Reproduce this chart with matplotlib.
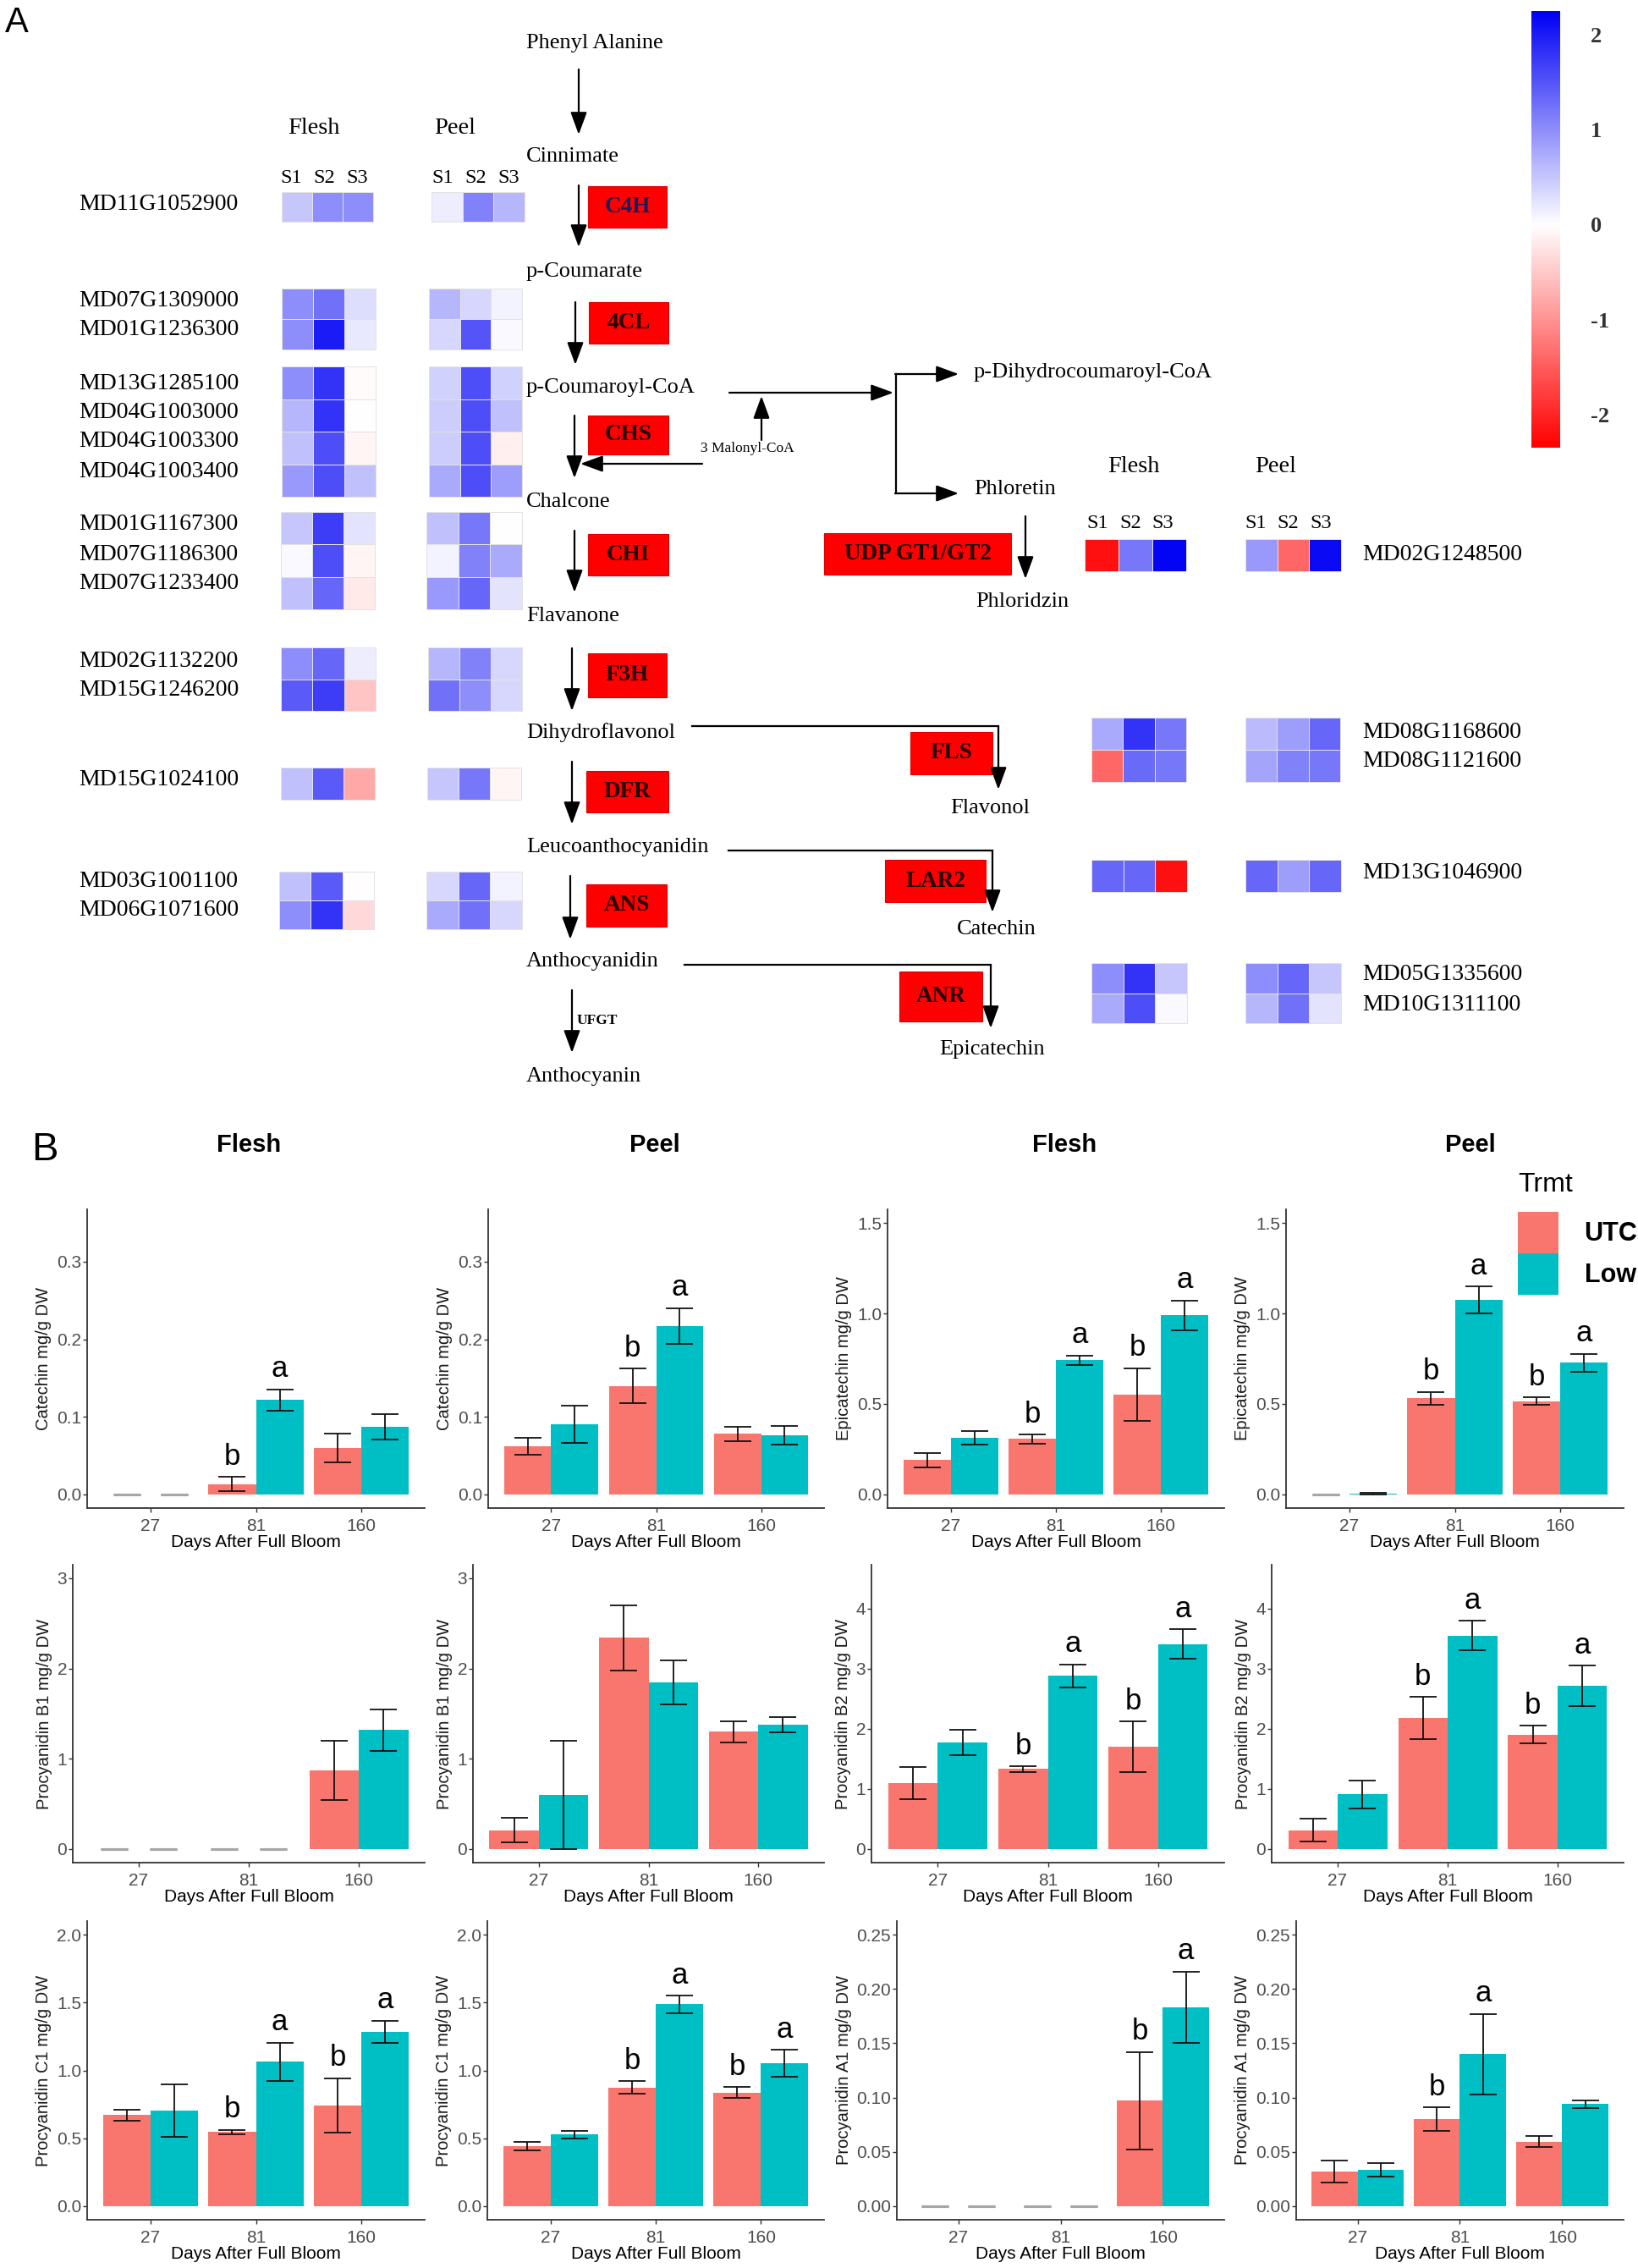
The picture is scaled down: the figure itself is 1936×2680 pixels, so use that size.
import numpy as np
import matplotlib
matplotlib.use("Agg")
import matplotlib.pyplot as plt
from matplotlib import font_manager
from matplotlib.colors import LinearSegmentedColormap, Normalize
from matplotlib.cm import ScalarMappable
from matplotlib.patches import Rectangle
from matplotlib.ticker import MultipleLocator, FormatStrFormatter

# ------------------------------------------------------------------ data
# Panel A heat-map values (z-scores, columns S1, S2, S3)
C4H_GENES = ["MD11G1052900"]
C4H_FLESH = [[0.50, 1.00, 1.00]]
C4H_PEEL = [[0.15, 1.10, 0.65]]

CL4_GENES = ["MD07G1309000", "MD01G1236300"]
CL4_FLESH = [[1.00, 1.25, 0.30], [1.00, 2.00, 0.20]]
CL4_PEEL = [[0.65, 0.35, 0.10], [0.35, 1.50, 0.05]]

CHS_GENES = ["MD13G1285100", "MD04G1003000", "MD04G1003300", "MD04G1003400"]
CHS_FLESH = [[1.00, 1.80, -0.05], [0.65, 1.80, 0.00], [0.55, 1.55, -0.10], [0.90, 1.55, 0.55]]
CHS_PEEL = [[0.40, 1.55, 0.40], [0.45, 1.55, 0.55], [0.45, 1.55, -0.15], [0.75, 1.55, 0.85]]

CHI_GENES = ["MD01G1167300", "MD07G1186300", "MD07G1233400"]
CHI_FLESH = [[0.50, 1.70, 0.25], [0.05, 1.55, -0.10], [0.55, 1.35, -0.20]]
CHI_PEEL = [[0.55, 1.20, 0.00], [0.10, 1.10, 0.75], [0.90, 1.35, 0.25]]

F3H_GENES = ["MD02G1132200", "MD15G1246200"]
F3H_FLESH = [[1.00, 1.35, 0.15], [1.45, 1.70, -0.55]]
F3H_PEEL = [[0.65, 1.10, 0.35], [1.25, 1.00, 0.35]]

DFR_GENES = ["MD15G1024100"]
DFR_FLESH = [[0.55, 1.45, -0.80]]
DFR_PEEL = [[0.50, 1.20, -0.10]]

ANS_GENES = ["MD03G1001100", "MD06G1071600"]
ANS_FLESH = [[0.55, 1.45, -0.03], [1.00, 1.80, -0.35]]
ANS_PEEL = [[0.35, 1.35, 0.10], [0.75, 1.25, 0.35]]

UGT_GENES = ["MD02G1248500"]
UGT_FLESH = [[-2.20, 1.20, 2.20]]
UGT_PEEL = [[0.90, -1.40, 2.15]]

FLS_GENES = ["MD08G1168600", "MD08G1121600"]
FLS_FLESH = [[0.75, 1.80, 1.20], [-1.40, 1.30, 1.20]]
FLS_PEEL = [[0.60, 0.85, 1.35], [0.80, 1.10, 1.20]]

LAR_GENES = ["MD13G1046900"]
LAR_FLESH = [[1.35, 1.35, -2.20]]
LAR_PEEL = [[1.35, 0.85, 1.35]]

ANR_GENES = ["MD05G1335600", "MD10G1311100"]
ANR_FLESH = [[1.00, 1.80, 0.50], [0.75, 1.55, 0.05]]
ANR_PEEL = [[1.00, 1.35, 0.50], [0.65, 1.25, 0.25]]

STAGES = ["S1", "S2", "S3"]
CBAR_TICKS = [-2, -1, 0, 1, 2]

# Panel B bar data: rows = [UTC, Low], columns = 27, 81, 160 DAFB
DAYS = ["27", "81", "160"]
TRMT = ["UTC", "Low"]

CAT_FLESH = [[0.0, 0.0134, 0.060], [0.0, 0.1217, 0.0877]]
CAT_FLESH_SE = [[0.0, 0.0094, 0.0184], [0.0, 0.0139, 0.0164]]
CAT_FLESH_LET = [["", "b", ""], ["", "a", ""]]

CAT_PEEL = [[0.062, 0.140, 0.078], [0.0905, 0.217, 0.0766]]
CAT_PEEL_SE = [[0.011, 0.022, 0.0095], [0.0245, 0.023, 0.012]]
CAT_PEEL_LET = [["", "b", ""], ["", "a", ""]]

EPI_FLESH = [[0.190, 0.306, 0.553], [0.314, 0.741, 0.989]]
EPI_FLESH_SE = [[0.040, 0.025, 0.145], [0.037, 0.027, 0.083]]
EPI_FLESH_LET = [["", "b", "b"], ["", "a", "a"]]

EPI_PEEL = [[0.0, 0.531, 0.516], [0.005, 1.073, 0.728]]
EPI_PEEL_SE = [[0.0, 0.035, 0.020], [0.003, 0.075, 0.050]]
EPI_PEEL_LET = [["", "b", "b"], ["", "a", "a"]]

B1_FLESH = [[0.0, 0.0, 0.87], [0.0, 0.0, 1.32]]
B1_FLESH_SE = [[0.0, 0.0, 0.33], [0.0, 0.0, 0.23]]
B1_FLESH_LET = [["", "", ""], ["", "", ""]]

B1_PEEL = [[0.21, 2.34, 1.30], [0.60, 1.85, 1.377]]
B1_PEEL_SE = [[0.134, 0.36, 0.12], [0.60, 0.245, 0.082]]
B1_PEEL_LET = [["", "", ""], ["", "", ""]]

B2_FLESH = [[1.10, 1.33, 1.70], [1.77, 2.88, 3.41]]
B2_FLESH_SE = [[0.27, 0.047, 0.424], [0.213, 0.19, 0.241]]
B2_FLESH_LET = [["", "b", "b"], ["", "a", "a"]]

B2_PEEL = [[0.31, 2.18, 1.90], [0.91, 3.55, 2.71]]
B2_PEEL_SE = [[0.19, 0.35, 0.149], [0.236, 0.245, 0.336]]
B2_PEEL_LET = [["", "b", "b"], ["", "a", "a"]]

C1_FLESH = [[0.67, 0.547, 0.741], [0.704, 1.064, 1.286]]
C1_FLESH_SE = [[0.04, 0.016, 0.20], [0.195, 0.141, 0.081]]
C1_FLESH_LET = [["", "b", "b"], ["", "a", "a"]]

C1_PEEL = [[0.441, 0.874, 0.837], [0.528, 1.487, 1.053]]
C1_PEEL_SE = [[0.033, 0.045, 0.039], [0.029, 0.064, 0.098]]
C1_PEEL_LET = [["", "b", "b"], ["", "a", "a"]]

A1_FLESH = [[0.0, 0.0, 0.097], [0.0, 0.0, 0.183]]
A1_FLESH_SE = [[0.0, 0.0, 0.045], [0.0, 0.0, 0.033]]
A1_FLESH_LET = [["", "", "b"], ["", "", "a"]]

A1_PEEL = [[0.032, 0.080, 0.0595], [0.0336, 0.140, 0.094]]
A1_PEEL_SE = [[0.010, 0.011, 0.005], [0.006, 0.037, 0.0035]]
A1_PEEL_LET = [["", "b", ""], ["", "a", ""]]

# ------------------------------------------------------------------ fonts
names = {f.name for f in font_manager.fontManager.ttflist}
SANS = "Liberation Sans" if "Liberation Sans" in names else "DejaVu Sans"
SERIF = "Liberation Serif" if "Liberation Serif" in names else "DejaVu Serif"
plt.rcParams["font.family"] = [SANS, "DejaVu Sans"]

W, H = 1936, 2680
fig = plt.figure(figsize=(W / 100, H / 100), dpi=100)
fig.patch.set_facecolor("white")


def px_axes(l, t, r, b, **kw):
    return fig.add_axes([l / W, 1 - b / H, (r - l) / W, (b - t) / H], **kw)


# ------------------------------------------------------------------ panel A
axd = px_axes(0, 0, W, H)
axd.set_xlim(0, W)
axd.set_ylim(H, 0)
axd.axis("off")

VMIN, VMAX = -2.35, 2.25
NORM = Normalize(vmin=VMIN, vmax=VMAX)
z0 = (0 - VMIN) / (VMAX - VMIN)
CMAP = LinearSegmentedColormap.from_list(
    "rwb", [(0.0, "#ff0000"), (z0, "#ffffff"), (1.0, "#0000f5")])


def heat(data, x0, x1, y0, y1):
    arr = np.asarray(data, dtype=float)
    nr, nc = arr.shape
    xs = np.linspace(x0, x1, nc + 1)
    ys = np.linspace(y0, y1, nr + 1)
    axd.pcolormesh(xs, ys, arr, cmap=CMAP, norm=NORM,
                   edgecolors="#e2e2e2", linewidth=0.6)


def serif(x, y, s, size=18.5, ha="left", va="center", **kw):
    axd.text(x, y, s, fontsize=size, family=SERIF, ha=ha, va=va, **kw)


# left-hand blocks: (genes, flesh, peel, y0, y1, label ys, flesh x, peel x)
LEFT_BLOCKS = [
    (C4H_GENES, C4H_FLESH, C4H_PEEL, 227, 262, [241], (333, 441), (510, 620)),
    (CL4_GENES, CL4_FLESH, CL4_PEEL, 341, 413, [356, 390], (333, 444), (507, 617)),
    (CHS_GENES, CHS_FLESH, CHS_PEEL, 433, 587, [454, 488, 522, 557], (333, 444), (507, 617)),
    (CHI_GENES, CHI_FLESH, CHI_PEEL, 605, 720, [620, 655, 689], (332, 443), (504, 617)),
    (F3H_GENES, F3H_FLESH, F3H_PEEL, 765, 840, [782, 816], (332, 444), (506, 617)),
    (DFR_GENES, DFR_FLESH, DFR_PEEL, 907, 945, [921], (332, 443), (505, 616)),
    (ANS_GENES, ANS_FLESH, ANS_PEEL, 1030, 1098, [1042, 1076], (330, 442), (504, 617)),
]
for genes, fl, pe, y0, y1, ly, fx, pxr in LEFT_BLOCKS:
    heat(fl, fx[0], fx[1], y0, y1)
    heat(pe, pxr[0], pxr[1], y0, y1)
    for g, yy in zip(genes, ly):
        serif(93, yy, g, size=20)

RIGHT_BLOCKS = [
    (UGT_GENES, UGT_FLESH, UGT_PEEL, 637, 675, [656], (1282, 1402), (1472, 1585)),
    (FLS_GENES, FLS_FLESH, FLS_PEEL, 848, 924, [865, 899], (1290, 1402), (1472, 1584)),
    (LAR_GENES, LAR_FLESH, LAR_PEEL, 1016, 1054, [1031], (1290, 1403), (1472, 1585)),
    (ANR_GENES, ANR_FLESH, ANR_PEEL, 1138, 1209, [1152, 1187], (1290, 1403), (1472, 1585)),
]
for genes, fl, pe, y0, y1, ly, fx, pxr in RIGHT_BLOCKS:
    heat(fl, fx[0], fx[1], y0, y1)
    heat(pe, pxr[0], pxr[1], y0, y1)
    for g, yy in zip(genes, ly):
        serif(1610, yy, g, size=20)

# tissue and stage headers
serif(371, 152, "Flesh", size=20.5, ha="center")
serif(538, 152, "Peel", size=20.5, ha="center")
serif(1340, 551, "Flesh", size=20.5, ha="center")
serif(1508, 551, "Peel", size=20.5, ha="center")
for s, x in zip(STAGES, [344, 383, 422]):
    serif(x, 211, s, size=17.5, ha="center")
for s, x in zip(STAGES, [523, 562, 601]):
    serif(x, 211, s, size=17.5, ha="center")
for s, x in zip(STAGES, [1297, 1336, 1374]):
    serif(x, 619, s, size=17.5, ha="center")
for s, x in zip(STAGES, [1484, 1522, 1561]):
    serif(x, 619, s, size=17.5, ha="center")

# metabolites
for s, x, y, ha in [
    ("Phenyl Alanine", 622, 51, "left"), ("Cinnimate", 622, 185, "left"),
    ("p-Coumarate", 622, 321, "left"), ("p-Coumaroyl-CoA", 622, 458, "left"),
    ("Chalcone", 622, 593, "left"), ("Flavanone", 622, 728, "left"),
    ("Dihydroflavonol", 622, 866, "left"), ("Leucoanthocyanidin", 622, 1001, "left"),
    ("Anthocyanidin", 622, 1136, "left"), ("Anthocyanin", 622, 1272, "left"),
    ("p-Dihydrocoumaroyl-CoA", 1151, 440, "left"), ("Phloretin", 1151, 578, "left"),
    ("Phloridzin", 1208, 711, "center"), ("Flavonol", 1170, 955, "center"),
    ("Catechin", 1178, 1098, "center"), ("Epicatechin", 1173, 1240, "center"),
]:
    serif(x, y, s, size=19, ha=ha)

serif(883, 530, "3 Malonyl-CoA", size=12.5, ha="center")
serif(682, 1206, "UFGT", size=12.5, weight="bold")

# enzyme boxes
for s, x0, y0, x1, y1, c in [
    ("C4H", 695, 220, 788, 269, "#1c1c5a"), ("4CL", 696, 357, 790, 406, "#200000"),
    ("CHS", 695, 491, 790, 537, "#200000"), ("CHI", 695, 631, 790, 680, "#200000"),
    ("F3H", 695, 772, 788, 824, "#200000"), ("DFR", 693, 911, 790, 960, "#200000"),
    ("ANS", 693, 1045, 788, 1095, "#200000"), ("UDP GT1/GT2", 974, 630, 1195, 679, "#200000"),
    ("FLS", 1076, 865, 1173, 915, "#200000"), ("LAR2", 1046, 1016, 1165, 1066, "#200000"),
    ("ANR", 1063, 1148, 1161, 1207, "#200000"),
]:
    axd.add_patch(Rectangle((x0, y0), x1 - x0, y1 - y0, facecolor="#ff0000",
                            edgecolor="#e00000", lw=0.8))
    serif((x0 + x1) / 2, (y0 + y1) / 2, s, size=19.5, ha="center", weight="bold", color=c)

AP = dict(arrowstyle="-|>,head_length=0.9,head_width=0.33", lw=1.6, color="black",
          shrinkA=0, shrinkB=0, mutation_scale=18)


def arrow(x0, y0, x1, y1):
    axd.annotate("", xy=(x1, y1), xytext=(x0, y0), arrowprops=AP)


for x, y0, y1 in [(684, 82, 159), (684, 219, 292), (680, 357, 431), (679, 491, 565),
                  (679, 627, 700), (676, 766, 840), (676, 900, 974), (674, 1035, 1110),
                  (676, 1170, 1244), (1212, 610, 684)]:
    arrow(x, y0, x, y1)

# branch to phloretin
arrow(862, 464, 1056, 464)
axd.plot([1059, 1059], [442, 583], color="black", lw=1.6)
arrow(1058, 442, 1133, 442)
arrow(1058, 583, 1133, 583)
arrow(900, 520, 900, 468)
arrow(830, 548, 686, 548)

# elbow branches
for x0, y, x1, y1 in [(818, 858, 1180, 933), (861, 1005, 1173, 1078), (809, 1140, 1171, 1215)]:
    axd.plot([x0, x1], [y, y], color="black", lw=1.6)
    arrow(x1, y, x1, y1)

axd.text(6, 38, "A", fontsize=30, family=SANS, ha="left", va="baseline")

# colour bar
cax = px_axes(1810, 13, 1844, 529)
cb = fig.colorbar(ScalarMappable(norm=NORM, cmap=CMAP), cax=cax, ticks=CBAR_TICKS)
cb.outline.set_visible(False)
cb.ax.tick_params(length=0, pad=26, labelsize=19, labelcolor="#333333")
cb.ax.set_yticklabels([str(t) for t in CBAR_TICKS], family=SERIF, weight="bold")

# ------------------------------------------------------------------ panel B
UTC_C, LOW_C = "#F8766D", "#00BFC4"

PANELS = [
    # row, col, ylabel, mean, se, letters, ymax, step, decimals
    (0, 0, "Catechin mg/g DW", CAT_FLESH, CAT_FLESH_SE, CAT_FLESH_LET, 0.35, 0.1, 1),
    (0, 1, "Catechin mg/g DW", CAT_PEEL, CAT_PEEL_SE, CAT_PEEL_LET, 0.35, 0.1, 1),
    (0, 2, "Epicatechin mg/g DW", EPI_FLESH, EPI_FLESH_SE, EPI_FLESH_LET, 1.5, 0.5, 1),
    (0, 3, "Epicatechin mg/g DW", EPI_PEEL, EPI_PEEL_SE, EPI_PEEL_LET, 1.5, 0.5, 1),
    (1, 0, "Procyanidin B1 mg/g DW", B1_FLESH, B1_FLESH_SE, B1_FLESH_LET, 3.0, 1, 0),
    (1, 1, "Procyanidin B1 mg/g DW", B1_PEEL, B1_PEEL_SE, B1_PEEL_LET, 3.0, 1, 0),
    (1, 2, "Procyanidin B2 mg/g DW", B2_FLESH, B2_FLESH_SE, B2_FLESH_LET, 4.5, 1, 0),
    (1, 3, "Procyanidin B2 mg/g DW", B2_PEEL, B2_PEEL_SE, B2_PEEL_LET, 4.5, 1, 0),
    (2, 0, "Procyanidin C1 mg/g DW", C1_FLESH, C1_FLESH_SE, C1_FLESH_LET, 2.0, 0.5, 1),
    (2, 1, "Procyanidin C1 mg/g DW", C1_PEEL, C1_PEEL_SE, C1_PEEL_LET, 2.0, 0.5, 1),
    (2, 2, "Procyanidin A1 mg/g DW", A1_FLESH, A1_FLESH_SE, A1_FLESH_LET, 0.25, 0.05, 2),
    (2, 3, "Procyanidin A1 mg/g DW", A1_PEEL, A1_PEEL_SE, A1_PEEL_LET, 0.25, 0.05, 2),
]

ROW_TB = [(1429, 1782), (1849, 2201), (2270, 2623)]
COL_LR = [
    [(103, 502), (577, 974), (1049, 1447), (1520, 1919)],
    [(86, 502), (559, 974), (1030, 1447), (1503, 1919)],
    [(103, 502), (576, 974), (1060, 1447), (1532, 1919)],
]

legend_handles = None
for row, col, ylab, mean, se, lets, ymax, step, dec in PANELS:
    t, b = ROW_TB[row]
    l, r = COL_LR[row][col]
    ax = px_axes(l, t, r, b)
    x = np.arange(1, len(DAYS) + 1)
    rng = ymax * 1.1
    handles = []
    for k, (off, colr) in enumerate([(-0.225, UTC_C), (0.225, LOW_C)]):
        m = np.asarray(mean[k], dtype=float)
        e = np.asarray(se[k], dtype=float)
        bc = ax.bar(x + off, m, width=0.45, color=colr, edgecolor="none", zorder=2,
                    label=TRMT[k])
        handles.append(bc)
        for xi, mi, ei, lt in zip(x + off, m, e, lets[k]):
            zero = (mi == 0 and ei == 0)
            ax.errorbar([xi], [mi], yerr=[ei], fmt="none",
                        ecolor="#a6a6a6" if zero else "#111111",
                        elinewidth=2.2 if zero else 1.3,
                        capthick=2.2 if zero else 1.3, capsize=11.5, zorder=3)
            if lt:
                ax.text(xi, mi + ei + 0.068 * rng, lt, ha="center", va="center",
                        fontsize=25, family=SANS, color="black", zorder=4)
    if legend_handles is None:
        legend_handles = handles
    ax.set_xlim(0.4, 3.6)
    ax.set_ylim(-0.05 * ymax, 1.05 * ymax)
    ax.set_xticks(x)
    ax.set_xticklabels(DAYS)
    ax.yaxis.set_major_locator(MultipleLocator(step))
    ax.yaxis.set_major_formatter(FormatStrFormatter("%%.%df" % dec))
    for s in ["top", "right"]:
        ax.spines[s].set_visible(False)
    for s in ["left", "bottom"]:
        ax.spines[s].set_color("#333333")
        ax.spines[s].set_linewidth(1.3)
    ax.tick_params(axis="both", length=3.5, width=1.0, color="#333333",
                   labelsize=15, labelcolor="#4d4d4d", pad=1.5)
    ax.tick_params(axis="x", pad=5)
    ax.set_xlabel("Days After Full Bloom", fontsize=15, color="black", labelpad=0)
    ax.set_ylabel(ylab, fontsize=14.5, color="#1a1a1a", labelpad=4)
    ax.set_facecolor("none")

fig.text(37 / W, 1 - 1371 / H, "B", fontsize=34, family=SANS, ha="left", va="baseline")
for s, xc in zip(["Flesh", "Peel", "Flesh", "Peel"], [294, 774, 1258, 1738]):
    fig.text(xc / W, 1 - 1353 / H, s, fontsize=21, weight="bold", ha="center", va="center")

fig.text(1794 / W, 1 - 1400 / H, "Trmt", fontsize=23, family=SANS, ha="left", va="center")
leg = fig.legend(handles=legend_handles, labels=TRMT, loc="upper left",
                 bbox_to_anchor=(1794 / W, 1 - 1432 / H), frameon=False,
                 prop={"family": SANS, "weight": "bold", "size": 22},
                 handlelength=1.57, handleheight=2.1, labelspacing=0.0,
                 handletextpad=1.0, borderpad=0, borderaxespad=0)

fig.savefig("out.png", dpi=100, facecolor="white")
